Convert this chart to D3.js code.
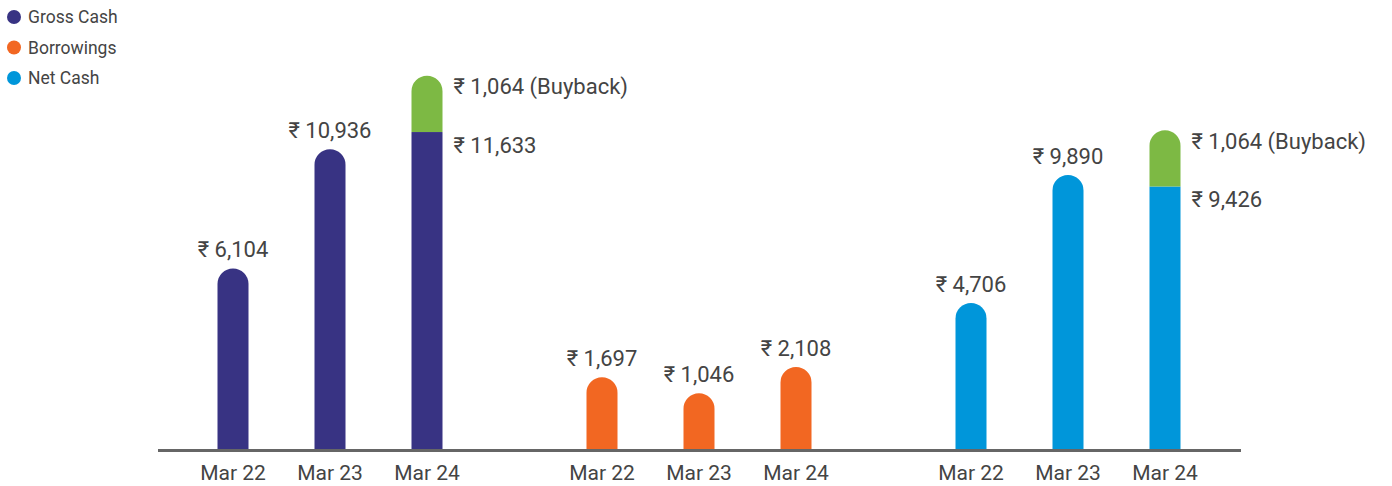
<!DOCTYPE html>
<html>
<head>
<meta charset="utf-8">
<script src="https://cdn.jsdelivr.net/npm/d3@7"></script>
<style>
  body { margin: 0; background: #fff; }
  text { font-family: Roboto, "DejaVu Sans", sans-serif; fill: #444; }
</style>
</head>
<body>
<div id="chart"></div>
<script>
// categories and series
var years = ["Mar 22", "Mar 23", "Mar 24"];
var seriesNames = ["Gross Cash", "Borrowings", "Net Cash"];
var seriesColors = ["#383383", "#F26722", "#0096DA"];
var buybackColor = "#7DB944";

// values (₹ crore)
var grossCash = [6104, 10936, 11633];
var borrowings = [1697, 1046, 2108];
var netCash = [4706, 9890, 9426];
// buyback stacked on top of Mar 24 bars
var grossBuyback = [0, 0, 1064];
var borrowBuyback = [0, 0, 0];
var netBuyback = [0, 0, 1064];

var w = 1392;
var h = 486;
var base = 449;
var barW = 31;

var svg = d3.select("#chart")
  .append("svg")
  .attr("width", w)
  .attr("height", h);

//group and bar positions
var xGroup = d3.scalePoint().domain(seriesNames).range([330, 1068]);
var xYear = d3.scalePoint().domain(years).range([-97, 97]);

// bars keep a small stub height, so 0 does not sit on the axis
var y = d3.scaleLinear().domain([0, 12000]).range([base - 30, base - 326]);
function segH(v) { return base - y(v); }

var fmt = d3.format(",");
function money(v) { return "\u20B9 " + fmt(v); }

var groups = [
  { name: seriesNames[0], color: seriesColors[0], vals: grossCash, extra: grossBuyback },
  { name: seriesNames[1], color: seriesColors[1], vals: borrowings, extra: borrowBuyback },
  { name: seriesNames[2], color: seriesColors[2], vals: netCash, extra: netBuyback }
];

// rounded top bar path
function roundTop(x, top, bottom, wd) {
  var r = wd / 2;
  return "M" + x + "," + bottom +
    "V" + (top + r) +
    "A" + r + "," + r + " 0 0 1 " + (x + wd) + "," + (top + r) +
    "V" + bottom + "Z";
}

var bars = [];
groups.forEach(function(g) {
  years.forEach(function(yr, i) {
    bars.push({ group: g, year: yr, value: g.vals[i], extra: g.extra[i],
      cx: xGroup(g.name) + xYear(yr) });
  });
});

var barG = svg.selectAll("g.bar")
  .data(bars)
  .enter()
  .append("g")
  .attr("class", "bar");

barG.each(function(d) {
  var g = d3.select(this);
  var x0 = d.cx - barW / 2;
  var top = base - segH(d.value);
  if (d.extra > 0) {
    g.append("rect")
      .attr("x", x0).attr("y", top)
      .attr("width", barW).attr("height", base - top)
      .attr("fill", d.group.color);
    var top2 = top - segH(d.extra);
    g.append("path")
      .attr("d", roundTop(x0, top2, top, barW))
      .attr("fill", buybackColor);
    g.append("text")
      .attr("x", x0 + barW + 11).attr("y", top + 13)
      .attr("dominant-baseline", "central")
      .style("font-size", "22px")
      .text(money(d.value));
    g.append("text")
      .attr("x", x0 + barW + 11).attr("y", top2 + 11)
      .attr("dominant-baseline", "central")
      .style("font-size", "22px")
      .text(money(d.extra) + " (Buyback)");
  } else {
    g.append("path")
      .attr("d", roundTop(x0, top, base, barW))
      .attr("fill", d.group.color);
    g.append("text")
      .attr("x", d.cx).attr("y", top - 11)
      .attr("text-anchor", "middle")
      .style("font-size", "22px")
      .text(money(d.value));
  }
});

//axis line
svg.append("line")
  .attr("x1", 158).attr("x2", 1241)
  .attr("y1", base + 1.5).attr("y2", base + 1.5)
  .attr("stroke", "#666")
  .attr("stroke-width", 3);

//year labels
svg.selectAll("text.year")
  .data(bars)
  .enter()
  .append("text")
  .attr("class", "year")
  .attr("x", function(d) { return d.cx; })
  .attr("y", 480)
  .attr("text-anchor", "middle")
  .style("font-size", "21px")
  .text(function(d) { return d.year; });

//legend
var leg = svg.selectAll("g.legend")
  .data(groups)
  .enter()
  .append("g")
  .attr("class", "legend")
  .attr("transform", function(d, i) { return "translate(14," + (17 + i * 30.5) + ")"; });

leg.append("circle")
  .attr("r", 7)
  .attr("fill", function(d) { return d.color; });

leg.append("text")
  .attr("x", 14)
  .attr("dominant-baseline", "central")
  .style("font-size", "17.5px")
  .text(function(d) { return d.name; });
</script>
</body>
</html>
